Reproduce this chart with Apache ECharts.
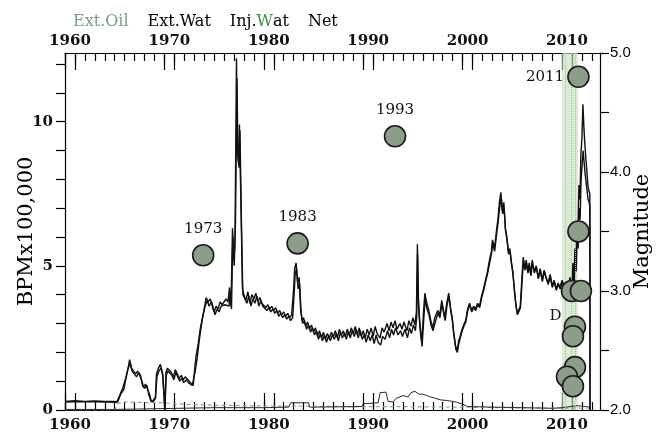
<!DOCTYPE html>
<html>
<head>
<meta charset="utf-8">
<script src="https://cdn.jsdelivr.net/npm/echarts@6.0.0/dist/echarts.min.js"></script>
<style>
  html, body { margin: 0; padding: 0; background: #fff; }
  #chart { width: 660px; height: 432px; }
</style>
</head>
<body>
<div id="chart"></div>
<script>
// ---- Axis labels ----
const decadeLabels = [1960, 1970, 1980, 1990, 2000, 2010];
const leftLabels = [0, 5, 10];
const rightLabels = [2, 3, 4, 5];

// ---- Monthly volumes (BPM x 100,000) as [year, value] ----
const extWat = [
  [1960,0.30],[1961,0.32],[1962,0.30],[1963,0.31],[1964,0.30],[1965,0.30],[1965.3,0.28],[1965.6,0.55],[1965.9,0.70],
  [1966.2,1.20],[1966.4,1.55],[1966.5,1.75],[1966.7,1.45],[1966.9,1.50],[1967.1,1.25],[1967.3,1.35],[1967.5,1.40],
  [1967.7,1.05],[1967.9,0.80],[1968.1,0.90],[1968.3,0.95],[1968.5,0.55],[1968.7,0.28],[1968.9,0.35],[1969.1,0.45],
  [1969.2,1.25],[1969.4,1.45],[1969.6,1.58],[1969.8,1.30],[1969.95,1.35],[1970.05,0.02],[1970.15,1.30],[1970.3,1.45],
  [1970.5,1.50],[1970.7,1.30],[1970.9,1.15],[1971.1,1.40],[1971.3,1.25],[1971.5,1.10],[1971.7,1.20],[1971.9,1.05],
  [1972.1,1.15],[1972.3,1.10],[1972.5,1.00],[1972.7,0.92],[1972.9,0.85],[1973.05,1.45],[1973.2,1.90],[1973.4,2.30],
  [1973.6,2.80],[1973.8,3.15],[1974.0,3.50],[1974.2,3.90],[1974.4,3.75],[1974.6,3.85],[1974.8,3.70],[1975.0,3.40],
  [1975.2,3.60],[1975.4,3.50],[1975.6,3.75],[1975.8,3.65],[1976.0,3.70],[1976.2,3.85],[1976.4,3.75],[1976.55,4.25],
  [1976.7,3.60],[1976.85,6.30],[1977.0,5.20],[1977.1,5.80],[1977.25,12.2],[1977.35,9.0],[1977.45,8.6],[1977.55,9.9],
  [1977.65,8.0],[1977.75,6.2],[1977.85,4.2],[1978.0,4.0],[1978.2,3.8],[1978.4,4.1],[1978.6,3.7],[1978.8,4.0],
  [1979.0,3.85],[1979.2,4.05],[1979.4,3.75],[1979.6,3.9],[1979.8,3.7],[1980.0,3.75],[1980.2,3.55],[1980.4,3.65],
  [1980.6,3.5],[1980.8,3.6],[1981.0,3.45],[1981.2,3.55],[1981.4,3.35],[1981.6,3.45],[1981.8,3.3],[1982.0,3.4],
  [1982.2,3.25],[1982.4,3.35],[1982.6,3.2],[1982.8,3.3],[1983.0,4.2],[1983.1,4.9],[1983.25,5.1],[1983.4,4.4],
  [1983.55,4.6],[1983.7,3.5],[1983.85,3.1],[1984.0,3.2],[1984.2,2.9],[1984.4,3.05],[1984.6,2.8],[1984.8,2.95],
  [1985.0,2.7],[1985.2,2.85],[1985.4,2.55],[1985.6,2.75],[1985.8,2.5],[1986.0,2.7],[1986.2,2.45],[1986.4,2.65],
  [1986.6,2.5],[1986.8,2.7],[1987.0,2.55],[1987.2,2.75],[1987.4,2.5],[1987.6,2.8],[1987.8,2.6],[1988.0,2.75],
  [1988.2,2.55],[1988.4,2.8],[1988.6,2.6],[1988.8,2.85],[1989.0,2.65],[1989.2,2.9],[1989.4,2.6],[1989.6,2.85],
  [1989.8,2.55],[1990.0,2.75],[1990.2,2.5],[1990.4,2.8],[1990.6,2.6],[1990.8,2.85],[1991.0,2.55],[1991.2,2.9],
  [1991.4,2.65],[1991.7,2.5],[1991.9,2.85],[1992.1,2.7],[1992.4,3.0],[1992.6,2.75],[1992.8,3.05],[1993.0,2.85],
  [1993.2,3.1],[1993.4,2.8],[1993.7,3.0],[1993.9,2.8],[1994.1,3.05],[1994.4,2.75],[1994.6,3.1],[1994.8,2.9],
  [1995.0,3.2],[1995.2,2.95],[1995.35,3.4],[1995.45,5.75],[1995.55,3.8],[1995.7,3.0],[1995.9,2.35],[1996.05,3.3],
  [1996.2,4.05],[1996.4,3.7],[1996.6,3.45],[1996.8,3.1],[1997.0,2.85],[1997.2,3.2],[1997.5,3.45],[1997.7,3.3],
  [1997.9,3.8],[1998.1,3.4],[1998.2,3.2],[1998.4,3.7],[1998.6,4.05],[1998.8,3.5],[1998.95,3.2],[1999.1,2.7],
  [1999.3,2.2],[1999.45,2.05],[1999.6,2.4],[1999.75,2.55],[1999.9,2.75],[2000.1,2.95],[2000.3,3.1],[2000.5,3.5],
  [2000.7,3.7],[2000.9,3.45],[2001.1,3.6],[2001.3,3.5],[2001.5,3.7],[2001.7,3.6],[2001.9,3.95],[2002.1,4.2],
  [2002.3,4.5],[2002.5,4.8],[2002.7,5.2],[2002.9,5.5],[2003.0,5.9],[2003.2,5.6],[2003.4,6.2],[2003.55,6.6],
  [2003.7,7.2],[2003.85,7.55],[2004.0,6.9],[2004.15,7.2],[2004.3,6.3],[2004.45,6.0],[2004.6,5.5],[2004.75,5.6],
  [2004.9,5.15],[2005.05,4.8],[2005.2,4.2],[2005.35,3.7],[2005.5,3.35],[2005.65,3.4],[2005.8,3.6],[2005.95,4.5],
  [2006.1,5.3],[2006.25,4.9],[2006.4,5.2],[2006.55,4.8],[2006.7,5.1],[2006.85,4.7],[2007.0,5.2],[2007.2,4.8],
  [2007.4,5.0],[2007.6,4.6],[2007.8,4.9],[2008.0,4.5],[2008.2,4.85],[2008.4,4.6],[2008.6,4.4],[2008.8,4.7],
  [2009.0,4.3],[2009.2,4.5],[2009.4,4.2],[2009.6,4.4],[2009.8,4.25],[2010.0,4.5],[2010.2,4.3],[2010.4,4.4],
  [2010.6,4.2],[2010.8,4.6],[2011.0,4.3],[2011.1,5.1],[2011.2,4.5],[2011.3,5.6],[2011.4,5.0],[2011.5,6.5],
  [2011.6,6.1],[2011.7,7.8],[2011.8,7.3],[2011.9,8.9],[2012.0,9.4],[2012.1,10.6],[2012.2,9.8],[2012.3,9.2],
  [2012.4,8.7],[2012.5,8.3],[2012.6,7.8],[2012.7,7.6],[2012.8,7.5],[2012.82,0.0]
];

const net = [
  [1960,0.28],[1962,0.29],[1964,0.28],[1965.2,0.27],[1965.5,0.5],[1965.8,0.75],[1966.1,1.1],[1966.35,1.45],
  [1966.55,1.6],[1966.75,1.35],[1966.95,1.4],[1967.2,1.15],[1967.4,1.3],[1967.6,1.2],[1967.8,0.85],[1968.0,0.75],
  [1968.25,0.85],[1968.45,0.5],[1968.65,0.3],[1968.9,0.3],[1969.1,0.4],[1969.25,1.15],[1969.45,1.35],[1969.65,1.45],
  [1969.85,1.2],[1969.97,1.25],[1970.05,0.0],[1970.18,1.2],[1970.35,1.35],[1970.55,1.4],[1970.75,1.2],[1970.95,1.05],
  [1971.15,1.3],[1971.35,1.15],[1971.55,1.0],[1971.75,1.1],[1971.95,0.95],[1972.2,1.05],[1972.4,0.95],[1972.6,0.9],
  [1972.8,0.85],[1972.95,0.8],[1973.1,1.35],[1973.3,1.8],[1973.5,2.4],[1973.7,2.9],[1973.9,3.3],[1974.1,3.6],
  [1974.3,3.8],[1974.5,3.6],[1974.7,3.75],[1974.9,3.5],[1975.1,3.3],[1975.3,3.5],[1975.5,3.4],[1975.7,3.6],
  [1975.9,3.55],[1976.1,3.65],[1976.3,3.7],[1976.5,3.6],[1976.6,4.1],[1976.75,3.5],[1976.88,6.0],[1977.02,5.0],
  [1977.15,6.5],[1977.3,11.5],[1977.4,8.8],[1977.5,8.4],[1977.6,9.7],[1977.7,7.6],[1977.8,5.5],[1977.9,4.0],
  [1978.1,3.85],[1978.3,3.7],[1978.5,3.95],[1978.7,3.6],[1978.9,3.85],[1979.1,3.7],[1979.3,3.95],[1979.5,3.6],
  [1979.7,3.8],[1979.9,3.6],[1980.1,3.65],[1980.3,3.45],[1980.5,3.55],[1980.7,3.4],[1980.9,3.5],[1981.1,3.35],
  [1981.3,3.45],[1981.5,3.25],[1981.7,3.35],[1981.9,3.2],[1982.1,3.3],[1982.3,3.15],[1982.5,3.25],[1982.7,3.1],
  [1982.9,3.2],[1983.05,4.0],[1983.15,4.7],[1983.3,4.9],[1983.45,4.2],[1983.6,4.4],[1983.75,3.4],[1983.9,3.0],
  [1984.1,3.1],[1984.3,2.8],[1984.5,2.95],[1984.7,2.7],[1984.9,2.85],[1985.1,2.6],[1985.3,2.75],[1985.5,2.45],
  [1985.7,2.65],[1985.9,2.4],[1986.1,2.6],[1986.3,2.35],[1986.5,2.55],[1986.7,2.4],[1986.9,2.6],[1987.1,2.45],
  [1987.3,2.65],[1987.5,2.4],[1987.7,2.7],[1987.9,2.5],[1988.1,2.65],[1988.3,2.45],[1988.5,2.7],[1988.7,2.5],
  [1988.9,2.75],[1989.1,2.55],[1989.3,2.8],[1989.5,2.5],[1989.7,2.75],[1989.9,2.45],[1990.1,2.6],[1990.3,2.35],
  [1990.5,2.6],[1990.7,2.4],[1990.9,2.6],[1991.1,2.3],[1991.3,2.6],[1991.5,2.35],[1991.75,2.25],[1991.95,2.55],
  [1992.2,2.45],[1992.45,2.75],[1992.65,2.5],[1992.85,2.8],[1993.05,2.6],[1993.25,2.85],[1993.5,2.6],[1993.75,2.75],
  [1993.95,2.55],[1994.2,2.8],[1994.45,2.5],[1994.65,2.85],[1994.85,2.65],[1995.05,2.95],[1995.25,2.75],[1995.38,3.2],
  [1995.47,5.4],[1995.58,3.5],[1995.72,2.8],[1995.92,2.2],[1996.08,3.1],[1996.22,3.85],[1996.42,3.5],[1996.62,3.3],
  [1996.82,2.95],[1997.02,2.75],[1997.25,3.05],[1997.52,3.35],[1997.72,3.2],[1997.92,3.7],[1998.12,3.3],[1998.25,3.1],
  [1998.42,3.6],[1998.62,3.95],[1998.82,3.4],[1998.97,3.1],[1999.12,2.6],[1999.32,2.1],[1999.47,2.0],[1999.62,2.3],
  [1999.77,2.5],[1999.92,2.7],[2000.12,2.9],[2000.32,3.05],[2000.52,3.45],[2000.72,3.65],[2000.92,3.4],[2001.12,3.55],
  [2001.32,3.45],[2001.52,3.65],[2001.72,3.55],[2001.92,3.9],[2002.12,4.15],[2002.32,4.45],[2002.52,4.75],[2002.72,5.1],
  [2002.92,5.45],[2003.02,5.8],[2003.22,5.5],[2003.42,6.1],[2003.57,6.5],[2003.72,7.0],[2003.87,7.4],[2004.02,6.8],
  [2004.17,7.0],[2004.32,6.2],[2004.47,5.9],[2004.62,5.4],[2004.77,5.5],[2004.92,5.05],[2005.07,4.7],[2005.22,4.1],
  [2005.37,3.6],[2005.52,3.3],[2005.67,3.35],[2005.82,3.55],[2005.97,4.4],[2006.12,5.2],[2006.27,4.85],[2006.42,5.1],
  [2006.57,4.75],[2006.72,5.0],[2006.87,4.65],[2007.02,5.1],[2007.22,4.75],[2007.42,4.95],[2007.62,4.55],[2007.82,4.85],
  [2008.02,4.45],[2008.22,4.8],[2008.42,4.55],[2008.62,4.35],[2008.82,4.65],[2009.02,4.25],[2009.22,4.45],[2009.42,4.15],
  [2009.62,4.35],[2009.82,4.2],[2010.02,4.45],[2010.22,4.25],[2010.42,4.35],[2010.62,4.15],[2010.82,4.5],[2011.02,4.25],
  [2011.12,4.9],[2011.22,4.4],[2011.32,5.3],[2011.42,4.8],[2011.52,6.0],[2011.62,5.6],[2011.72,7.0],[2011.82,6.6],
  [2011.92,8.0],[2012.02,8.5],[2012.12,9.0],[2012.22,8.6],[2012.32,8.2],[2012.42,7.9],[2012.52,7.6],[2012.62,7.3],
  [2012.72,7.2],[2012.8,7.1],[2012.82,0.0]
];

const extOil = [
  [1960,0],[1965,0],[1965.3,0.22],[1966,0.28],[1968,0.26],[1970,0.25],[1971,0.22],[1972,0.2],[1974,0.18],
  [1976,0.16],[1978,0.15],[1980,0.14],[1984,0.13],[1988,0.12],[1992,0.12],[1996,0.11],[2000,0.1],[2004,0.08],
  [2008,0.07],[2012.8,0.06]
];

const injWat = [
  [1960,0.02],[1965,0.02],[1970,0.05],[1975,0.08],[1980,0.08],[1982.5,0.1],[1982.7,0.25],[1984.5,0.25],
  [1984.6,0.1],[1985,0.1],[1989.9,0.12],[1990,0.22],[1991.5,0.25],[1991.7,0.6],[1992.3,0.62],[1992.5,0.3],
  [1993,0.28],[1993.3,0.4],[1994,0.5],[1994.5,0.45],[1994.8,0.6],[1995.2,0.65],[1995.6,0.55],[1996,0.55],
  [1996.4,0.5],[1996.8,0.45],[1997.3,0.4],[1997.8,0.35],[1998.4,0.33],[1999,0.3],[1999.4,0.27],[2000,0.2],
  [2000.5,0.12],[2003,0.1],[2006,0.08],[2009,0.06],[2010,0.08],[2011.5,0.15],[2012.8,0.1]
];

// ---- Earthquakes: year, magnitude, tag ----
const quakeYears = [1973.9, 1983.4, 1993.2, 2011.65, 2011.65, 2011.0, 2011.9, 2011.3, 2011.1, 2011.3, 2010.5, 2011.1];
const quakeMags  = [3.3, 3.4, 4.3, 4.8, 3.5, 3.0, 3.0, 2.7, 2.62, 2.36, 2.28, 2.2];
const quakeTags  = ['1973', '1983', '1993', '2011', '', '', '', 'D', '', '', '', ''];

// Highlighted period
const bandRange = [2010.0, 2011.6];

const X_MIN = 1960, X_MAX = 2013.82;
const serif = 'DejaVu Serif';
const ink = '#000';

const yearTicks = [];
for (let y = X_MIN; y <= 2013; y++) yearTicks.push(y);
const longTicks = [];
decadeLabels.forEach(d => { longTicks.push(d, d + 1); });
const labelPos = decadeLabels.map(d => d + 0.5);

function xAxisPair(position) {
  const lab = {
    customValues: labelPos,
    formatter: v => String(Math.floor(v)),
    fontFamily: serif, fontSize: 15, fontWeight: 'bold', color: '#111',
    margin: position === 'top' ? 4 : 8
  };
  return [
    {
      type: 'value', position, min: X_MIN, max: X_MAX,
      axisLine: { show: true, lineStyle: { color: ink, width: 1.2 } },
      axisTick: { show: true, inside: true, length: 8, customValues: yearTicks, lineStyle: { color: ink, width: 1.2 } },
      axisLabel: lab,
      splitLine: { show: false }
    },
    {
      type: 'value', position, min: X_MIN, max: X_MAX,
      axisLine: { show: false },
      axisTick: { show: true, inside: true, length: 17, customValues: longTicks, lineStyle: { color: ink, width: 1.2 } },
      axisLabel: { show: false },
      splitLine: { show: false }
    }
  ];
}

const leftTicks = [];
for (let v = 0; v <= 12; v++) leftTicks.push(v);
const rightTicks = [2, 2.5, 3, 3.5, 4, 4.5, 5];

const quakeData = quakeYears.map((y, i) => {
  const item = { value: [y, quakeMags[i]] };
  const tag = quakeTags[i];
  if (tag === 'D') {
    item.label = { show: true, formatter: tag, position: 'left', distance: 2, offset: [0, -11] };
  } else if (tag === '2011') {
    item.label = { show: true, formatter: tag, position: 'left', distance: 3 };
  } else if (tag) {
    item.label = { show: true, formatter: tag, position: 'top', distance: 7 };
  }
  return item;
});

const chart = echarts.init(document.getElementById('chart'), null, { renderer: 'canvas' });
chart.setOption({
  animation: false,
  backgroundColor: '#fff',
  grid: { left: 65, right: 60, top: 53, bottom: 22, containLabel: false, outerBoundsMode: 'none' },
  legend: {
    left: 62, top: 9,
    itemWidth: 0, itemHeight: 0, itemGap: 13,
    itemStyle: { opacity: 0 }, lineStyle: { opacity: 0 },
    textStyle: {
      fontFamily: serif, fontSize: 16, color: ink,
      rich: {
        k: { fontFamily: serif, fontSize: 16, color: ink },
        g: { fontFamily: serif, fontSize: 16, color: '#3f8f4a' }
      }
    },
    formatter: name => name === 'Inj.Wat' ? '{k|Inj.}{g|W}{k|at}' : name,
    data: [
      { name: 'Ext.Oil', textStyle: { color: '#7f9c86' } },
      { name: 'Ext.Wat' },
      { name: 'Inj.Wat' },
      { name: 'Net' }
    ]
  },
  xAxis: [...xAxisPair('bottom'), ...xAxisPair('top')],
  yAxis: [
    {
      type: 'value', position: 'left', min: 0, max: 12.38,
      name: 'BPMx100,000', nameLocation: 'middle', nameGap: 28, nameRotate: 90, nameMoveOverlap: false,
      nameTextStyle: { fontFamily: serif, fontSize: 21, color: ink },
      axisLine: { show: true, lineStyle: { color: ink, width: 1.2 } },
      axisTick: { show: true, length: 9, customValues: leftTicks, lineStyle: { color: ink, width: 1.2 } },
      axisLabel: { customValues: leftLabels, fontFamily: serif, fontSize: 15, fontWeight: 'bold', color: '#111', margin: 12 },
      splitLine: { show: false }
    },
    {
      type: 'value', position: 'right', min: 2, max: 5,
      name: 'Magnitude', nameLocation: 'middle', nameGap: 32, nameRotate: 90, nameMoveOverlap: false,
      nameTextStyle: { fontFamily: serif, fontSize: 21, color: ink },
      axisLine: { show: true, lineStyle: { color: ink, width: 1.2 } },
      axisTick: { show: true, length: 9, customValues: rightTicks, lineStyle: { color: ink, width: 1.2 } },
      axisLabel: { customValues: rightLabels, formatter: v => v.toFixed(1), fontFamily: 'Liberation Sans', fontSize: 15, color: ink, margin: 10 },
      splitLine: { show: false }
    }
  ],
  series: [
    {
      type: 'line', data: [], z: 1, silent: true,
      markArea: {
        silent: true,
        itemStyle: { color: 'rgba(200,222,188,0.65)' },
        data: [[{ xAxis: bandRange[0] }, { xAxis: bandRange[1] }]]
      },
      markLine: {
        silent: true, symbol: 'none', label: { show: false },
        lineStyle: { color: '#9cc79a', type: 'dotted', width: 1 },
        data: [{ xAxis: 2010.3 }, { xAxis: 2010.9 }, { xAxis: 2011.35 }]
      }
    },
    {
      name: 'Ext.Oil', type: 'line', data: extOil, showSymbol: false, z: 2,
      lineStyle: { color: '#8ea894', width: 1.2, type: [4, 3] }, itemStyle: { color: '#8ea894' }
    },
    {
      name: 'Inj.Wat', type: 'line', data: injWat, showSymbol: false, z: 2,
      lineStyle: { color: '#2a2a2a', width: 1 }, itemStyle: { color: '#2a2a2a' }
    },
    {
      name: 'Net', type: 'line', data: net, showSymbol: false, z: 3,
      lineStyle: { color: '#111', width: 1.4 }, itemStyle: { color: '#111' }
    },
    {
      name: 'Ext.Wat', type: 'line', data: extWat, showSymbol: false, z: 3,
      lineStyle: { color: '#111', width: 1.4 }, itemStyle: { color: '#111' }
    },
    {
      type: 'scatter', xAxisIndex: 0, yAxisIndex: 1, z: 5,
      symbol: 'circle', symbolSize: 21,
      itemStyle: { color: '#8c9d8a', borderColor: '#1a1a1a', borderWidth: 1.6, opacity: 1 },
      label: { show: false, fontFamily: serif, fontSize: 15, color: '#111' },
      data: quakeData
    }
  ]
});
</script>
</body>
</html>
